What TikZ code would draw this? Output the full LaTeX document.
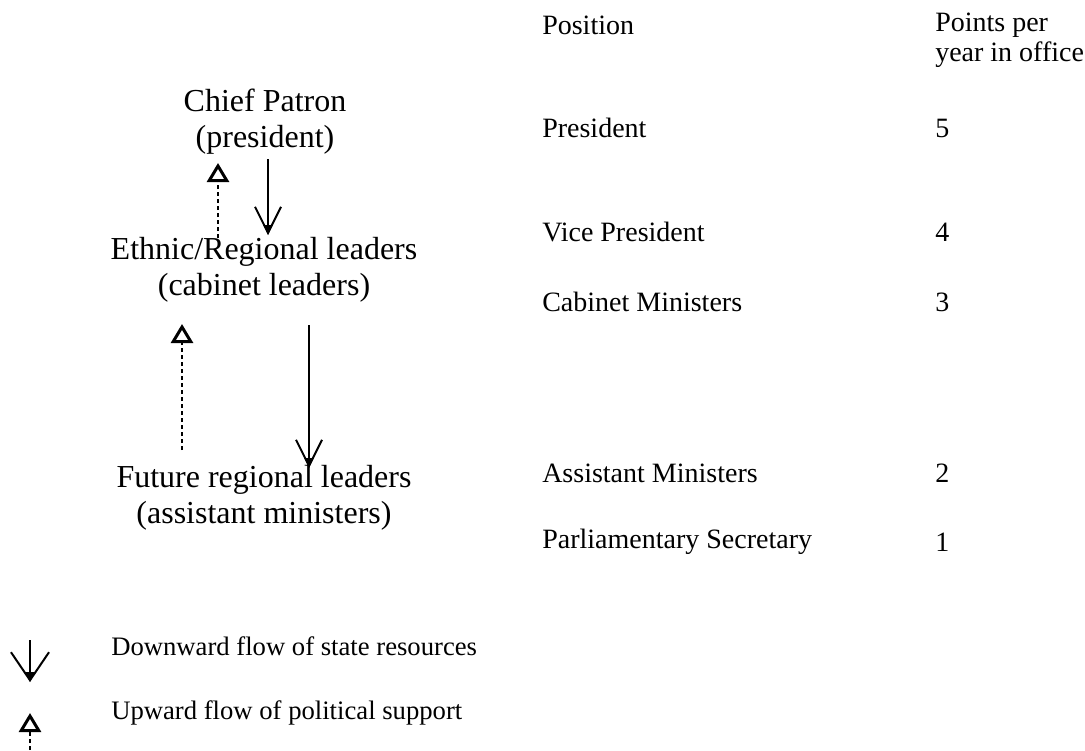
\documentclass[tikz,border=0pt]{standalone}
\usepackage{fontspec}
\setmainfont{Liberation Serif}
\usetikzlibrary{arrows.meta}

\begin{document}
\begin{tikzpicture}[x=0.75pt,y=-0.75pt,
  level/.style={align=center,font=\fontsize{24}{27}\selectfont,inner sep=0pt},
  cell/.style={anchor=west,align=left,font=\fontsize{21}{22.5}\selectfont,inner sep=0pt},
  key/.style={anchor=west,font=\fontsize{20}{24}\selectfont,inner sep=0pt},
  resflow/.style={line width=1.5pt,-{Straight Barb[length=19.5pt,width=19.5pt,line width=1.5pt]}},
  keyflow/.style={line width=1.5pt,-{Straight Barb[length=21pt,width=28.5pt,line width=1.5pt]}},
  resflowtip/.style={line width=1.5pt,-{Triangle[length=7.5pt,width=6.75pt]}},
  support/.style={line width=1.5pt,dash pattern=on 3pt off 2.25pt,
    -{Triangle[open,length=14.25pt,width=16.5pt,line width=2.25pt]}},
]
\useasboundingbox (0,0) rectangle (1085,750);

% hierarchy of patrons and clients
\node[level] (chief)  at (265,122) {Chief Patron\\(president)};
\node[level] (ethnic) at (264,270) {Ethnic/Regional leaders\\(cabinet leaders)};
\node[level] (future) at (264,498) {Future regional leaders\\(assistant ministers)};

% flows between the levels
\coordinate (r1a) at (268,159);
\coordinate (r1b) at (268,235);
\coordinate (u1a) at (218,238);
\coordinate (u1b) at (218,163);
\coordinate (r2a) at (309,325);
\coordinate (r2b) at (309,468);
\coordinate (u2a) at (182,450);
\coordinate (u2b) at (182,324);

\draw[resflow] (r1a) -- (r1b);
\draw[resflowtip] (r1a) -- (r1b);
\draw[support] (u1a) -- (u1b);
\draw[resflow] (r2a) -- (r2b);
\draw[resflowtip] (r2a) -- (r2b);
\draw[support] (u2a) -- (u2b);

% points table
\node[cell] (hpos) at (542,25) {Position};
\node[cell] (hpts) at (935,40) {Points per\\year in office};
\node[cell] (p1) at (542,128) {President};
\node[cell] (n1) at (935,128) {5};
\node[cell] (p2) at (542,232) {Vice President};
\node[cell] (n2) at (935,232) {4};
\node[cell] (p3) at (542,302) {Cabinet Ministers};
\node[cell] (n3) at (935,302) {3};
\node[cell] (p4) at (542,473) {Assistant Ministers};
\node[cell] (n4) at (935,473) {2};
\node[cell] (p5) at (542,542) {Parliamentary Secretary};
\node[cell] (n5) at (935,542) {1};

% legend
\coordinate (kra) at (30,640);
\coordinate (krb) at (30,682);
\coordinate (kua) at (30,750);
\coordinate (kub) at (30,713);
\draw[keyflow] (kra) -- (krb);
\draw[resflowtip] (kra) -- (krb);
\draw[support] (kua) -- (kub);
\node[key] (kr) at (111,646) {Downward flow of state resources};
\node[key] (ku) at (111,713) {Upward flow of political support};
\end{tikzpicture}
\end{document}
